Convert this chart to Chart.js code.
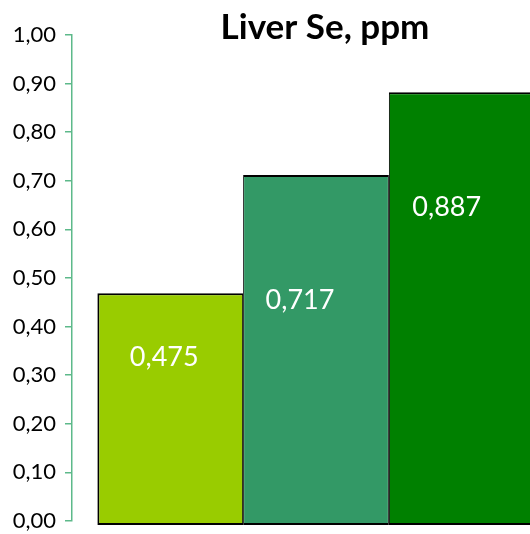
<!DOCTYPE html>
<html>
<head>
<meta charset="utf-8">
<style>
  html, body { margin: 0; padding: 0; background: #fff; overflow: hidden; }
  #wrap { width: 560px; height: 534px; position: relative; }
</style>
<script src="https://cdn.jsdelivr.net/npm/chart.js@4.4.1/dist/chart.umd.min.js"></script>
</head>
<body>
<div id="wrap"><canvas id="chart"></canvas></div>
<script>
// Liver selenium by treatment group
const categories = ['Liver Se'];
const seriesNames = ['Group 1', 'Group 2', 'Group 3'];
const seriesValues = [0.475, 0.717, 0.887];
const seriesColors = ['#99CC00', '#339966', '#008000'];
const yTicks = [0, 0.1, 0.2, 0.3, 0.4, 0.5, 0.6, 0.7, 0.8, 0.9, 1.0];
const titleText = 'Liver Se, ppm';

// label placement relative to each bar (px: dx from bar centre, dy below bar top)
const labelOffsets = [[-6, 64], [-16, 125], [-15, 115]];

const fmt = (v, d) => v.toFixed(d).replace('.', ',');

const borders = [
  { top: 2, left: 2, bottom: 2, right: 1 },
  { top: 2, left: 1, bottom: 2, right: 1 },
  { top: 2, left: 1, bottom: 2, right: 2 }
];

const datasets = seriesNames.map((name, i) => ({
  label: name,
  data: [seriesValues[i]],
  base: 0,
  backgroundColor: seriesColors[i],
  borderColor: '#000',
  borderWidth: borders[i],
  borderSkipped: false,
  barPercentage: 1,
  categoryPercentage: 0.896,
  yAxisID: 'yb',
  clip: false
}));

const valueLabels = {
  id: 'valueLabels',
  afterDatasetsDraw(chart) {
    const ctx = chart.ctx;
    ctx.save();
    ctx.font = '27px Lato';
    ctx.fillStyle = '#fff';
    ctx.textAlign = 'center';
    ctx.textBaseline = 'middle';
    chart.data.datasets.forEach((ds, i) => {
      const bar = chart.getDatasetMeta(i).data[0];
      const [dx, dy] = labelOffsets[i];
      ctx.fillText(fmt(ds.data[0], 3), bar.x + dx, bar.y + dy);
    });
    ctx.restore();
  }
};

const chartTitle = {
  id: 'chartTitle',
  afterDraw(chart) {
    const ctx = chart.ctx;
    ctx.save();
    ctx.font = 'bold 35px Lato';
    ctx.fillStyle = '#000';
    ctx.textAlign = 'center';
    ctx.textBaseline = 'alphabetic';
    ctx.fillText(titleText, 325, 39);
    ctx.restore();
  }
};

new Chart(document.getElementById('chart'), {
  type: 'bar',
  data: { labels: categories, datasets },
  options: {
    responsive: true,
    maintainAspectRatio: false,
    animation: false,
    layout: { padding: { top: 35, bottom: 13, left: 0, right: 0 } },
    plugins: { legend: { display: false }, tooltip: { enabled: false }, title: { display: false } },
    scales: {
      x: { display: false },
      y: {
        min: 0, max: 1,
        afterBuildTicks(scale) { scale.ticks = yTicks.map(v => ({ value: v })); },
        afterFit(scale) {
          scale.width = 72;
          scale.paddingTop = 0;
          scale.paddingBottom = 0;
        },
        border: { display: true, color: '#5DB98A', width: 1.5 },
        grid: { drawOnChartArea: false, drawTicks: true, tickLength: 7, color: '#5DB98A', lineWidth: 1.5 },
        ticks: {
          padding: 9,
          color: '#000',
          font: { family: 'Lato', size: 22 },
          callback: v => fmt(v, 2)
        }
      },
      yb: {
        display: false,
        min: 0.0082,
        max: 1.0041
      }
    }
  },
  plugins: [valueLabels, chartTitle]
});
</script>
</body>
</html>
